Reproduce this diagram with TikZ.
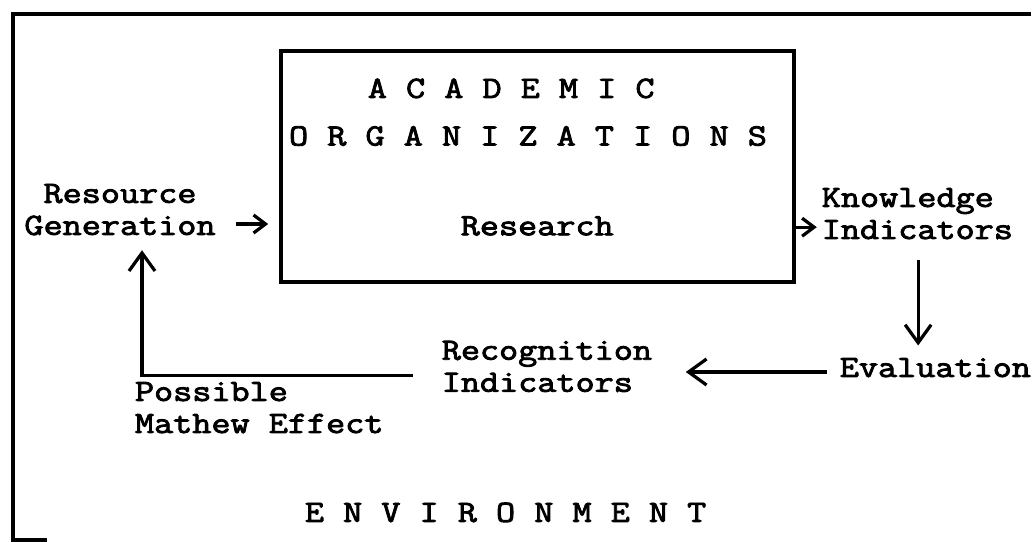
\documentclass[tikz,border=0pt]{standalone}
\usepackage{fontspec}
\newfontfamily\typer{Latin Modern Mono}[FakeStretch=1.2, FakeBold=2.8]
\usetikzlibrary{arrows.meta}

\begin{document}
\begin{tikzpicture}[>={Straight Barb[length=0.45cm,width=0.65cm]},
        txt/.style={font=\typer\fontsize{22}{22.8}\selectfont, align=left},
        flow/.style={->, line width=2.3pt},
        tick/.style={-{Straight Barb[length=0.3cm,width=0.45cm]}, line width=2.3pt}]
    \useasboundingbox (0,0) rectangle (25.9,-13.55);
    % environment frame, open at the right and bottom
    \draw[line width=2.5pt] (1.18,-13.5) -- (0.33,-13.5) -- (0.33,-0.35) -- (25.78,-0.35);
    \node[draw, line width=2.5pt, minimum width=12.82cm, minimum height=5.78cm] (org) at (13.44,-4.16) {};
    \node[txt] (acad) at (12.78,-2.21) {A C A D E M I C};
    \node[txt] (orgs) at (13.2,-3.4) {O R G A N I Z A T I O N S};
    \node[txt] (research) at (13.43,-5.65) {Research};
    \node[txt, align=center] (res) at (3.0,-5.24) {Resource\\Generation};
    \node[txt, anchor=west] (know) at (20.42,-5.34) {Knowledge\\Indicators};
    \node[txt, anchor=west] (eval) at (20.87,-9.19) {Evaluation};
    \node[txt, anchor=west] (recog) at (10.92,-9.16) {Recognition\\Indicators};
    \node[txt, anchor=west] (poss) at (3.25,-10.19) {Possible\\Mathew Effect};
    \node[txt] (env) at (12.64,-12.81) {E N V I R O N M E N T};
    % the cycle
    \draw[tick, shorten <=0.38cm, shorten >=0.28cm] ([yshift=-0.36cm]res.east) -- ([yshift=-0.36cm]res.east -| org.west);
    \draw[tick] ([yshift=-0.34cm]know.west -| org.east) -- ([yshift=-0.34cm]know.west);
    \draw[flow, shorten <=0.4cm, shorten >=0.19cm] ([xshift=0.02cm]know.south) -- ([xshift=0.02cm]know.south |- eval.north);
    \draw[flow, shorten <=0.2cm, shorten >=0.72cm] ([yshift=-0.11cm]eval.west) -- ([yshift=-0.11cm]eval.west -| recog.east);
    \draw[flow, shorten <=0.6cm, shorten >=0.25cm] ([yshift=-0.22cm]recog.west) -| ([xshift=0.55cm]res.south);
\end{tikzpicture}
\end{document}
